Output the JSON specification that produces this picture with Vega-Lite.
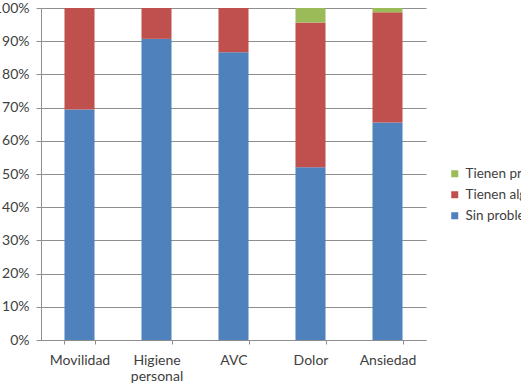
{
  "$schema": "https://vega.github.io/schema/vega-lite/v6.json",
  "autosize": {"type": "none"},
  "padding": {"left": 41, "top": 8, "right": 95, "bottom": 45},
  "width": 385,
  "height": 332,
  "background": "white",
  "config": {
    "view": {"stroke": null},
    "font": "Lato",
    "axis": {
      "labelFont": "Lato",
      "labelFontSize": 14,
      "labelColor": "#404040",
      "domainColor": "#8E8E8E",
      "tickColor": "#8E8E8E",
      "gridColor": "#8E8E8E",
      "gridOpacity": 1,
      "title": null
    },
    "legend": {
      "labelFont": "Lato",
      "labelFontSize": 13.5,
      "labelColor": "#404040"
    }
  },
  "data": {
    "values": [
      {"area": "Movilidad", "estado": "Sin problemas", "valor": 0.694},
      {"area": "Movilidad", "estado": "Tienen algún problema", "valor": 0.306},
      {"area": "Movilidad", "estado": "Tienen problemas graves", "valor": 0.0},
      {"area": "Higiene personal", "estado": "Sin problemas", "valor": 0.907},
      {"area": "Higiene personal", "estado": "Tienen algún problema", "valor": 0.093},
      {"area": "Higiene personal", "estado": "Tienen problemas graves", "valor": 0.0},
      {"area": "AVC", "estado": "Sin problemas", "valor": 0.867},
      {"area": "AVC", "estado": "Tienen algún problema", "valor": 0.133},
      {"area": "AVC", "estado": "Tienen problemas graves", "valor": 0.0},
      {"area": "Dolor", "estado": "Sin problemas", "valor": 0.52},
      {"area": "Dolor", "estado": "Tienen algún problema", "valor": 0.436},
      {"area": "Dolor", "estado": "Tienen problemas graves", "valor": 0.044},
      {"area": "Ansiedad", "estado": "Sin problemas", "valor": 0.655},
      {"area": "Ansiedad", "estado": "Tienen algún problema", "valor": 0.332},
      {"area": "Ansiedad", "estado": "Tienen problemas graves", "valor": 0.013}
    ]
  },
  "mark": {"type": "bar"},
  "encoding": {
    "x": {
      "field": "area",
      "type": "nominal",
      "sort": null,
      "scale": {"paddingInner": 0.61, "paddingOuter": 0.305},
      "axis": {
        "labelAngle": 0,
        "labelExpr": "split(datum.label, ' ')",
        "labelPadding": 9,
        "labelBaseline": "top",
        "labelLineHeight": 16,
        "tickBand": "extent",
        "tickSize": 4,
        "domainColor": "#8E8E8E"
      }
    },
    "y": {
      "field": "valor",
      "type": "quantitative",
      "stack": "zero",
      "scale": {"domain": [0, 1]},
      "axis": {
        "format": ".0%",
        "values": [0, 0.1, 0.2, 0.3, 0.4, 0.5, 0.6, 0.7, 0.8, 0.9, 1],
        "tickSize": 5,
        "labelPadding": 7,
        "grid": true
      }
    },
    "color": {
      "field": "estado",
      "type": "nominal",
      "scale": {
        "domain": ["Tienen problemas graves", "Tienen algún problema", "Sin problemas"],
        "range": ["#9BBB59", "#C0504D", "#4F81BD"]
      },
      "legend": {
        "title": null,
        "orient": "none",
        "legendX": 407,
        "legendY": 159,
        "padding": 0,
        "symbolType": "square",
        "symbolSize": 49,
        "symbolStrokeWidth": 0,
        "labelOffset": 4,
        "rowPadding": 6,
        "labelLimit": 300
      }
    },
    "order": {"field": "estado", "sort": "ascending"}
  }
}
